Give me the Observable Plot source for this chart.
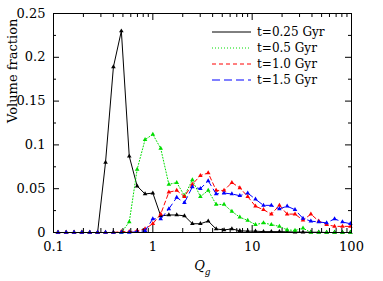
<!DOCTYPE html>
<html><head><meta charset="utf-8">
<script src="https://cdn.jsdelivr.net/npm/d3@7"></script>
<script src="https://cdn.jsdelivr.net/npm/@observablehq/plot@0.6"></script>
<style>
body{margin:0;background:#fff;}
#wrap{position:relative;width:383px;height:281px;font-family:"DejaVu Serif",serif;}
#legend{position:absolute;left:0;top:0;}
</style></head><body><div id="wrap"></div>
<script>
const qValues = [0.111,0.134,0.161,0.193,0.232,0.278,0.334,0.401,0.482,0.579,0.695,0.835,1.00,1.20,1.45,1.74,2.08,2.50,3.01,3.61,4.34,5.21,6.25,7.51,9.02,10.8,13.0,15.6,18.8,22.5,27.0,32.5,39.0,46.8,56.2,67.5,81.1,97.4];
const frac025 = [0,0,0,0,0,0,0.080,0.189,0.230,0.087,0.053,0.044,0.045,0.019,0.020,0.020,0.019,0.010,0.010,0.013,0.004,0.003,0.004,0.002,0.0015,0.0015,0.001,0.001,0.001,0.0008,0.0005,0.0005,0.0003,0.0003,0,0,0,0];
const frac05 = [0,0,0,0,0,0,0,0,0,0.012,0.072,0.106,0.112,0.096,0.055,0.057,0.042,0.060,0.041,0.048,0.032,0.032,0.024,0.0175,0.0137,0.009,0.011,0.009,0.007,0.003,0.0023,0.005,0,0,0,0,0,0];
const frac10 = [0,0,0,0,0,0,0,0,0.001,0.001,0.002,0.004,0.010,0.021,0.046,0.048,0.041,0.055,0.065,0.068,0.048,0.048,0.057,0.051,0.041,0.030,0.026,0.021,0.031,0.021,0.021,0.014,0.021,0.013,0.009,0.007,0.007,0.007];
const frac15 = [0,0,0,0,0,0,0,0,0,0,0.001,0.002,0.0156,0.0156,0.027,0.040,0.034,0.052,0.050,0.059,0.044,0.045,0.044,0.042,0.045,0.038,0.031,0.031,0.027,0.030,0.026,0.016,0.013,0.012,0.011,0.0156,0.012,0.010];
const seriesNames = ["t=0.25 Gyr","t=0.5 Gyr","t=1.0 Gyr","t=1.5 Gyr"];
const seriesValues = [frac025, frac05, frac10, frac15];
const seriesColors = ["#000000","#00dd00","#ff0000","#0000ff"];
const seriesDash = ["none","1,2","4,3","8,4"];
const xTickValues = [0.1,1,10,100];
const xTickLabels = ["0.1","1","10","100"];
const xMinorTicks = [0.2,0.3,0.4,0.5,0.6,0.7,0.8,0.9,2,3,4,5,6,7,8,9,20,30,40,50,60,70,80,90];
const yTickValues = [0,0.05,0.1,0.15,0.2,0.25];
const yTickLabels = ["0","0.05","0.1","0.15","0.2","0.25"];
const yMinorTicks = [0.025,0.075,0.125,0.175,0.225];

const W = 383, H = 281, mL = 53, mR = 32, mT = 13, mB = 49;
const fw = W - mL - mR, fh = H - mT - mB;

const marks = [];
seriesValues.forEach((vals, k) => {
  const rows = qValues.map((q, i) => ({q, v: vals[i]}));
  marks.push(Plot.line(rows, {x: "q", y: "v", stroke: seriesColors[k], strokeWidth: 1, strokeDasharray: seriesDash[k]}));
  marks.push(Plot.dot(rows, {x: "q", y: "v", symbol: "triangle", r: 1.7, fill: seriesColors[k], stroke: "none"}));
});
const font = {fontFamily: "DejaVu Serif", fontSize: 13, fill: "#000"};
marks.push(
  Plot.frame({stroke: "#000", strokeWidth: 1}),
  Plot.ruleX(xTickValues, {x: d => d, insetTop: fh - 7}),
  Plot.ruleX(xMinorTicks, {x: d => d, insetTop: fh - 4}),
  Plot.ruleX(xTickValues, {x: d => d, insetBottom: fh - 7}),
  Plot.ruleX(xMinorTicks, {x: d => d, insetBottom: fh - 4}),
  Plot.ruleY(yTickValues, {y: d => d, insetRight: fw - 6}),
  Plot.ruleY(yMinorTicks, {y: d => d, insetRight: fw - 3}),
  Plot.ruleY(yTickValues, {y: d => d, insetLeft: fw - 6}),
  Plot.ruleY(yMinorTicks, {y: d => d, insetLeft: fw - 3}),
  Plot.text(xTickValues, {x: d => d, frameAnchor: "bottom", dy: 18, text: (d, i) => xTickLabels[i], ...font}),
  Plot.text(yTickValues, {y: d => d, frameAnchor: "left", dx: -8, textAnchor: "end", text: (d, i) => yTickLabels[i], ...font}),
  Plot.text(["Volume fraction"], {frameAnchor: "left", dx: -41, rotate: -90, text: d => d, fontFamily: "DejaVu Serif", fontSize: 13}),
  Plot.text(["Q"], {frameAnchor: "bottom", dx: -3, dy: 37, text: d => d, fontFamily: "DejaVu Serif", fontSize: 13, fontStyle: "italic"}),
  Plot.text(["g"], {frameAnchor: "bottom", dx: 5, dy: 42, text: d => d, fontFamily: "DejaVu Serif", fontSize: 9, fontStyle: "italic"})
);

const chart = Plot.plot({
  width: W, height: H,
  marginLeft: mL, marginRight: mR, marginTop: mT, marginBottom: mB,
  x: {type: "log", domain: [0.1, 100], axis: null},
  y: {domain: [0, 0.25], axis: null},
  style: {background: "#fff", overflow: "visible"},
  marks
});
const wrap = document.getElementById("wrap");
wrap.appendChild(chart);

// legend overlay
const leg = d3.select(wrap).append("svg").attr("id", "legend").attr("width", W).attr("height", H);
const rowY = [32, 48, 64, 80];
seriesNames.forEach((name, k) => {
  leg.append("line").attr("x1", 212).attr("x2", 251).attr("y1", rowY[k]).attr("y2", rowY[k])
    .attr("stroke", seriesColors[k]).attr("stroke-width", 1).attr("stroke-dasharray", seriesDash[k]);
  leg.append("text").attr("x", 257).attr("y", rowY[k]).attr("dy", "0.35em")
    .attr("font-family", "DejaVu Serif").attr("font-size", 12).text(name);
});
</script></body></html>
